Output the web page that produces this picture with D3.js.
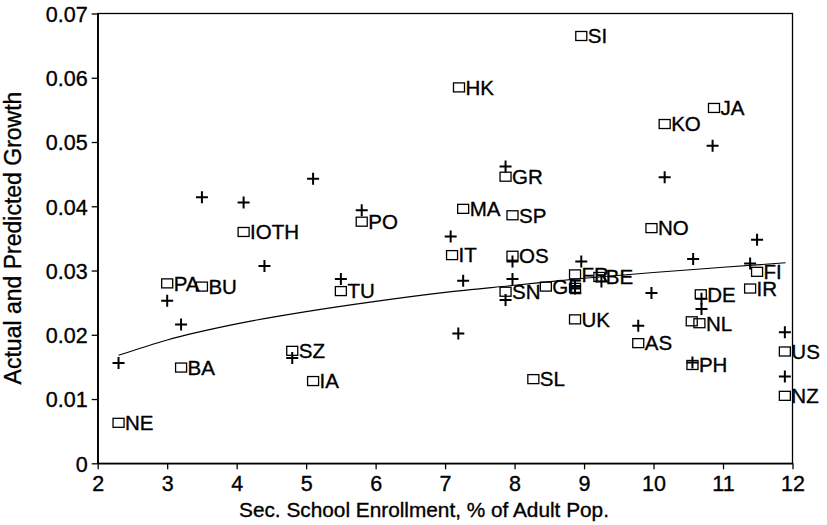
<!DOCTYPE html>
<html>
<head>
<meta charset="utf-8">
<script src="https://cdn.jsdelivr.net/npm/d3@7/dist/d3.min.js"></script>
<style>
  html, body { margin: 0; padding: 0; background: #fff; }
  svg { display: block; }
  text { font-family: "Liberation Sans", Arial, Helvetica, sans-serif; fill: #000; stroke: #000; stroke-width: 0.35px; }
</style>
</head>
<body>
<svg id="chart" width="827" height="525"></svg>
<script>
// ---- data ----
const countries = ["NE","BA","PA","BU","IOTH","PO","TU","SZ","IA","IT","HK","MA","GR","SP","OS","SN","SI","KO","JA","NO","SL","GE","FR","","BE","UK","AS","DE","","NL","PH","FI","IR","US","NZ"];
const actualX   = [2.3, 3.2, 3.0, 3.5, 4.1, 5.8, 5.5, 4.8, 5.1, 7.1, 7.2, 7.26, 7.87, 7.97, 7.97, 7.87, 8.96, 10.16, 10.87, 9.97, 8.27, 8.45, 8.87, 8.87, 9.22, 8.87, 9.78, 10.68, 10.55, 10.66, 10.56, 11.49, 11.39, 11.89, 11.89];
const actualY   = [0.0063, 0.0149, 0.0280, 0.0275, 0.0360, 0.0376, 0.0268, 0.0175, 0.0128, 0.0324, 0.0585, 0.0396, 0.0446, 0.0386, 0.0323, 0.0267, 0.0665, 0.0528, 0.0553, 0.0366, 0.0131, 0.0275, 0.0294, 0.0273, 0.0290, 0.0224, 0.0187, 0.0263, 0.0221, 0.0218, 0.0153, 0.0298, 0.0272, 0.0174, 0.0105];

const predX = [2.3, 3.0, 3.2, 3.5, 4.1, 4.4, 4.8, 5.1, 5.5, 5.8, 7.08, 7.19, 7.26, 7.87, 7.97, 7.97, 7.87, 8.96, 8.87, 8.87, 9.25, 9.97, 9.78, 10.57, 10.69, 10.69, 10.56, 11.49, 11.39, 11.89, 11.89, 10.85, 10.16];
const predY = [0.0156, 0.0253, 0.0216, 0.0414, 0.0406, 0.0307, 0.0164, 0.0443, 0.0287, 0.0394, 0.0353, 0.0202, 0.0284, 0.0462, 0.0314, 0.0287, 0.0254, 0.0314, 0.0276, 0.0272, 0.0283, 0.0265, 0.0214, 0.0318, 0.0256, 0.0240, 0.0157, 0.0348, 0.0311, 0.0204, 0.0135, 0.0494, 0.0445];

const curveX = [2.3, 3, 4, 5, 6, 7, 8, 9, 10, 11, 11.9];
const curveY = [0.0168, 0.0192, 0.0217, 0.0236, 0.0252, 0.0266, 0.0277, 0.0288, 0.0297, 0.0305, 0.0312];

const xTicks = [2, 3, 4, 5, 6, 7, 8, 9, 10, 11, 12];
const yTicks = [0, 0.01, 0.02, 0.03, 0.04, 0.05, 0.06, 0.07];
const yTickLabels = ["0", "0.01", "0.02", "0.03", "0.04", "0.05", "0.06", "0.07"];
const xTitle = "Sec. School Enrollment, % of Adult Pop.";
const yTitle = "Actual and Predicted Growth";

// ---- drawing ----
const svg = d3.select("#chart");
const x = d3.scaleLinear().domain([2, 12]).range([97.7, 792.5]);
const y = d3.scaleLinear().domain([0, 0.07]).range([463.3, 13.5]);

// frame
svg.append("rect")
  .attr("x", x(2)).attr("y", y(0.07))
  .attr("width", x(12) - x(2)).attr("height", y(0) - y(0.07))
  .attr("fill", "none").attr("stroke", "#000").attr("stroke-width", 1.3);

// axes
const yAxis = d3.axisLeft(y).tickValues(yTicks).tickSize(6).tickSizeOuter(0)
  .tickFormat((d, i) => yTickLabels[i]);
const gy = svg.append("g").attr("transform", `translate(${x(2)},0)`).call(yAxis);
gy.selectAll("text").style("font-size", "21.5px").attr("x", -10).attr("dy", "0.36em");
gy.selectAll("line").attr("stroke-width", 1.3);
gy.select(".domain").attr("stroke-width", 1.5);

const xAxis = d3.axisBottom(x).tickValues(xTicks).tickSize(6).tickSizeOuter(0)
  .tickFormat(d3.format("d"));
const gx = svg.append("g").attr("transform", `translate(0,${y(0)})`).call(xAxis);
gx.selectAll("text").style("font-size", "21.5px").attr("y", 12);
gx.selectAll("line").attr("stroke-width", 1.3);
gx.select(".domain").attr("stroke-width", 1.5);

// titles
svg.append("text").attr("x", 424).attr("y", 517).attr("text-anchor", "middle")
  .style("font-size", "20.8px").text(xTitle);
svg.append("text").attr("transform", "translate(21,238) rotate(-90)")
  .attr("text-anchor", "middle").style("font-size", "23px").text(yTitle);

// fitted curve
const line = d3.line().x((d, i) => x(curveX[i])).y((d, i) => y(curveY[i])).curve(d3.curveMonotoneX);
svg.append("path").datum(curveX).attr("d", line)
  .attr("fill", "none").attr("stroke", "#000").attr("stroke-width", 1.1);

// predicted (+)
svg.append("g").selectAll("path").data(predX).join("path")
  .attr("d", (d, i) => {
    const cx = x(d), cy = y(predY[i]);
    return `M${cx - 6},${cy}H${cx + 6}M${cx},${cy - 6}V${cy + 6}`;
  })
  .attr("stroke", "#000").attr("stroke-width", 2).attr("fill", "none");

// actual (squares) with labels
const g = svg.append("g");
g.selectAll("rect").data(actualX).join("rect")
  .attr("x", d => x(d) - 5.5)
  .attr("y", (d, i) => y(actualY[i]) - 4.5)
  .attr("width", 11).attr("height", 9)
  .attr("fill", "none").attr("stroke", "#000").attr("stroke-width", 1.3);
g.selectAll("text").data(actualX).join("text")
  .attr("x", d => x(d) + 6.5)
  .attr("y", (d, i) => y(actualY[i]) + 7.3)
  .style("font-size", "20.5px")
  .text((d, i) => countries[i]);
</script>
</body>
</html>
